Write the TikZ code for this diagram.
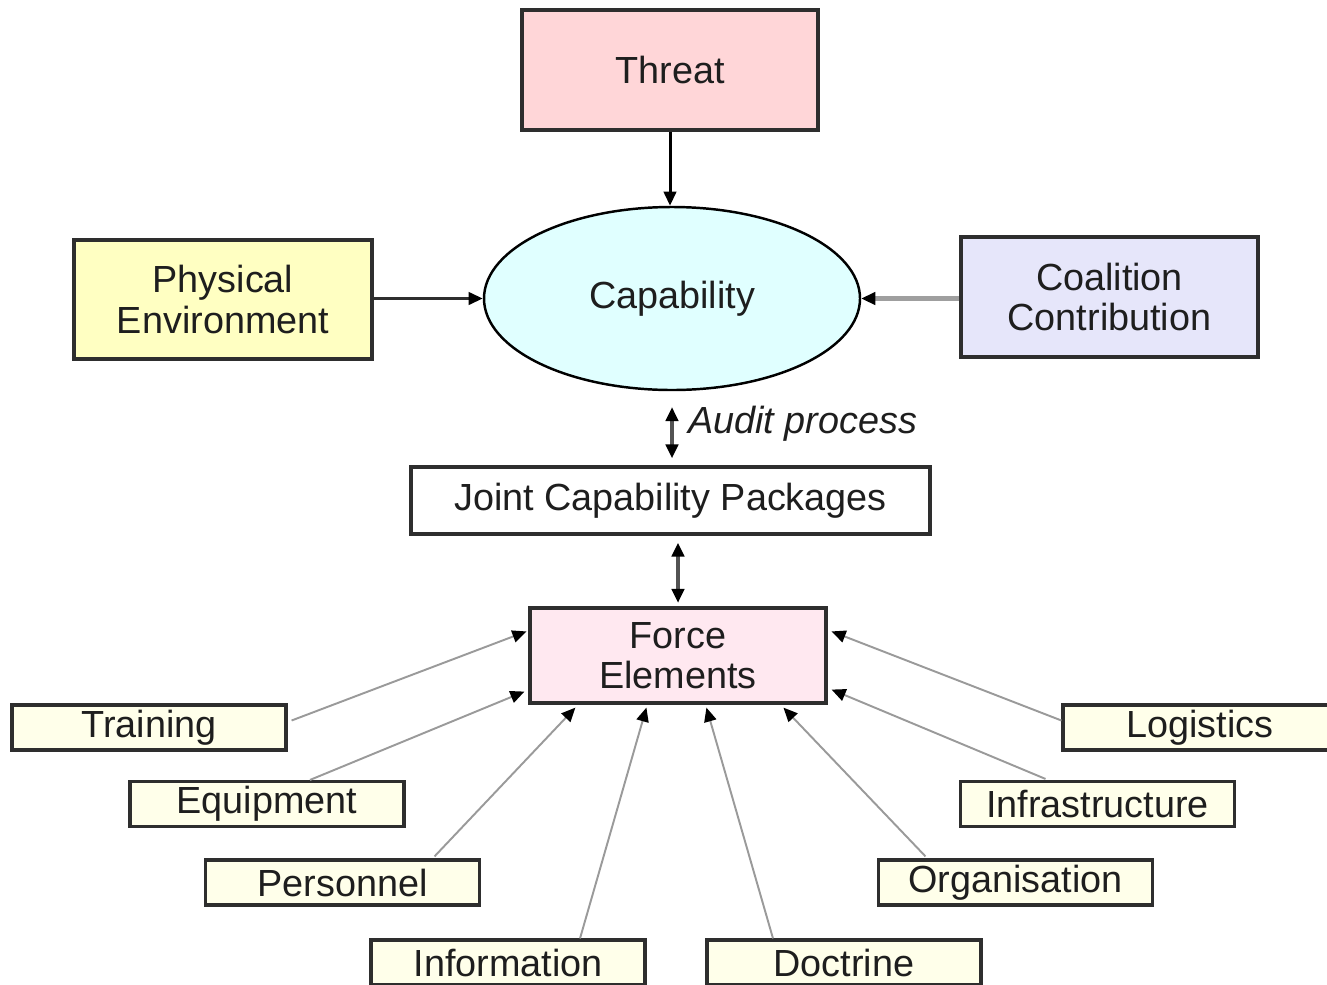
\documentclass[tikz,border=0pt]{standalone}
\usepackage{fontspec}
\setmainfont{Liberation Sans}
\usetikzlibrary{arrows.meta,calc,shapes.geometric}

\definecolor{threatfill}{HTML}{FFD6D8}
\definecolor{capfill}{HTML}{E0FFFF}
\definecolor{physfill}{HTML}{FFFFC2}
\definecolor{coalfill}{HTML}{E6E6FA}
\definecolor{forcefill}{HTML}{FFE8F0}
\definecolor{elemfill}{HTML}{FFFFEA}
\definecolor{edge}{HTML}{2E2E2E}
\definecolor{ink}{HTML}{1E1E1E}
\definecolor{feedline}{HTML}{9A9A9A}

\def\u{0.02cm}

\tikzset{
  lbl/.style={font=\fontsize{21.5}{23}\selectfont, text=ink, align=center},
  box/.style={lbl, draw=edge, line width=1.8pt, inner sep=0pt},
  elem/.style={box, fill=elemfill, minimum width={274*\u}, minimum height={45*\u}},
  tip/.style={-{Triangle[length=8pt,width=7pt,color=black]}},
  dtip/.style={{Triangle[length=8pt,width=7pt,color=black]}-{Triangle[length=8pt,width=7pt,color=black]}},
  mainlink/.style={tip, line width=1.7pt, draw=black},
  feed/.style={tip, line width=1.1pt, draw=feedline},
}

\begin{document}
\begin{tikzpicture}[x=0.02cm, y=-0.02cm]
\useasboundingbox (0,0) rectangle (1327,984);

% upper level
\node[box, fill=threatfill, minimum width={296*\u}, minimum height={120*\u}] (threat) at (670,70) {Threat};
\node[lbl, ellipse, draw=black, line width=1.4pt, fill=capfill, inner sep=0pt,
      minimum width={376*\u}, minimum height={183*\u}] (cap) at (672,298.5) {Capability};
\node[box, fill=physfill, minimum width={298*\u}, minimum height={119*\u}] (phys) at (223,299.5) {Physical\\Environment};
\node[box, fill=coalfill, minimum width={297*\u}, minimum height={120*\u}] (coal) at (1109.5,297) {Coalition\\Contribution};

% middle level
\node[box, fill=white, minimum width={519*\u}, minimum height={67*\u}] (jcp) at (670.5,500.5) {Joint Capability Packages};
\node[box, fill=forcefill, minimum width={296*\u}, minimum height={95*\u}] (fe) at (678,655.5) {Force\\Elements};

% force element inputs
\node[elem] (train) at (149,727.5) {Training};
\node[elem] (equip) at (267,804) {Equipment};
\node[elem] (pers)  at (342.5,882.5) {Personnel};
\node[elem] (info)  at (508,962.5) {Information};
\node[elem] (doct)  at (844,962.5) {Doctrine};
\node[elem] (org)   at (1015.5,882.5) {Organisation};
\node[elem] (infra) at (1097.5,804) {Infrastructure};
\node[elem] (logi)  at (1200,727.5) {Logistics};

% links into capability
\draw[mainlink] (threat.south) -- (threat.south |- cap.north);
\draw[mainlink, draw=edge] (cap.west -| phys.east) -- (cap.west);
\draw[mainlink, draw=gray!75, line width=2.4pt] (cap.east -| coal.west) -- (cap.east);

% audit process and packages
\draw[dtip, line width=2.4pt, draw=gray!65!black, shorten <=9pt, shorten >=4pt]
  (cap.south) -- (cap.south |- jcp.north);
\node[lbl, font=\fontsize{21.5}{23}\selectfont\itshape, anchor=west] (audit) at (682,424) {Audit process};
\draw[dtip, line width=2.4pt, draw=gray!65!black, shorten <=4pt, shorten >=2pt]
  (fe.north |- jcp.south) -- (fe.north);

% inputs to force elements
\draw[feed] ($(train.east)+(4,-7)$) -- ($(fe.north west)+(-2,25)$);
\draw[feed] ($(equip.north)+(43,0)$) -- ($(fe.south west)+(-4,-13)$);
\draw[feed] ($(pers.north)+(92,-2)$) -- ($(fe.south west)+(47,3)$);
\draw[feed] ($(info.north)+(72,0)$) -- ($(fe.south west)+(118,3)$);
\draw[feed] ($(doct.north)+(-71,0)$) -- ($(fe.south west)+(178,3)$);
\draw[feed] ($(org.north)+(-90,-2)$) -- ($(fe.south west)+(255,3)$);
\draw[feed] ($(infra.north)+(-52,-1)$) -- ($(fe.south east)+(4,-15)$);
\draw[feed] ($(logi.west)+(0,-7)$) -- ($(fe.north east)+(4,25)$);
\end{tikzpicture}
\end{document}
